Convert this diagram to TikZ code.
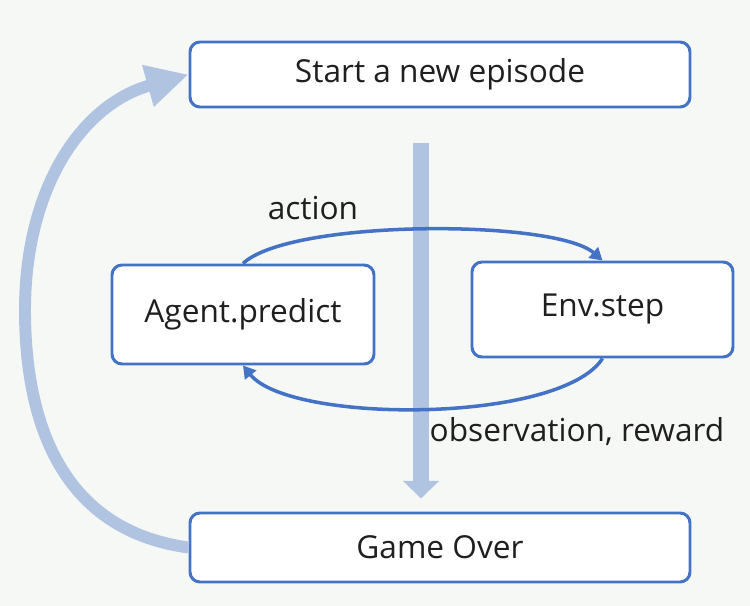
\documentclass[tikz,border=0pt]{standalone}
\usepackage{fontspec}
\setmainfont{Open Sans}
\usetikzlibrary{arrows.meta}
\definecolor{boxline}{RGB}{68,114,196}
\definecolor{flow}{RGB}{176,196,226}
\definecolor{paper}{RGB}{246,248,246}
\tikzset{
  stage/.style={draw=boxline, line width=1.7pt, rounded corners=0.2cm, fill=white,
                font=\fontsize{18}{21}\selectfont, text=black!88},
  loop/.style={draw=boxline, line width=2pt, -{Triangle[length=7pt, width=8pt]}},
  lbl/.style={font=\fontsize{18}{21}\selectfont, text=black!88}
}
\begin{document}
\begin{tikzpicture}
    \fill[paper] (0, 0) rectangle (15, -12.12);
    \useasboundingbox (0, 0) rectangle (15, -12.12);

    \node[stage, minimum width=10cm, minimum height=1.3cm] (start) at (8.8, -1.49) {Start a new episode};
    \node[stage, minimum width=5.24cm, minimum height=1.98cm] (agent) at (4.86, -6.29) {Agent.predict};
    \node[stage, minimum width=5.22cm, minimum height=1.9cm] (env) at (12.05, -6.19) {Env.step};
    \node[stage, minimum width=10cm, minimum height=1.38cm] (over) at (8.8, -10.95) {Game Over};

    \draw[flow, line width=9.6pt, shorten <=0.7cm, shorten >=0.26cm,
          -{Triangle[length=10pt, width=20pt]}]
          ([xshift=-0.38cm]start.south) -- ([xshift=-0.38cm]over.north);

    \draw[loop] (agent.north) .. controls (5.8, -4.38) and (11.1, -4.38) .. (env.north);
    \draw[loop] (env.south) .. controls (11.2, -8.48) and (5.8, -8.48) .. (agent.south);
    \node[lbl] (act) at (6.26, -4.16) {action};
    \node[lbl] (obs) at (11.54, -8.64) {observation, reward};

    \coordinate (side) at (0.5, -6.2);
    \draw[flow, line width=6.8pt] (over.west) .. controls (1.2, -10.6) and (0.5, -8.4) .. (side);
    \draw[flow, line width=6.8pt, -{Triangle[length=24pt, width=23pt]}]
          (side) .. controls (0.5, -3.8) and (1.6, -2.1) .. (start.west);
\end{tikzpicture}
\end{document}
